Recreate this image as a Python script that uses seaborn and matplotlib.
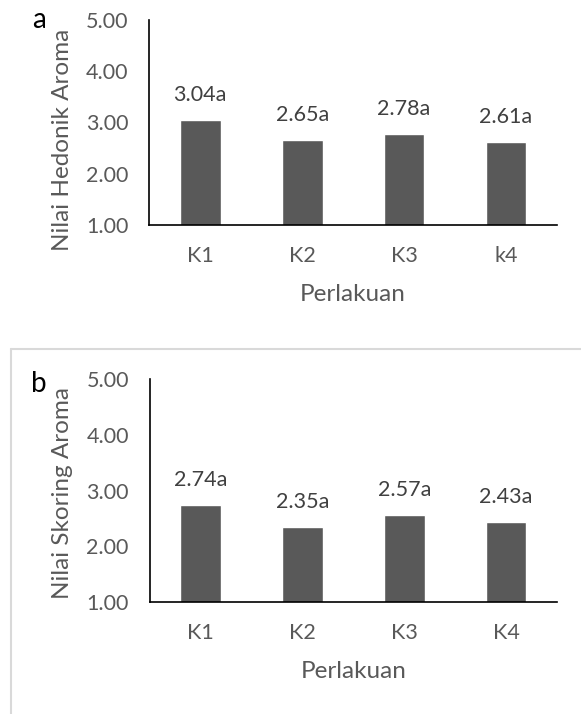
import matplotlib
matplotlib.use("Agg")
import matplotlib.pyplot as plt
from matplotlib.lines import Line2D
import seaborn as sns

# data
perlakuan_a = ["K1", "K2", "K3", "k4"]
hedonik = [3.04, 2.65, 2.78, 2.61]
notasi_a = ["a", "a", "a", "a"]

perlakuan_b = ["K1", "K2", "K3", "K4"]
skoring = [2.74, 2.35, 2.57, 2.43]
notasi_b = ["a", "a", "a", "a"]

y_ticks = [1.0, 2.0, 3.0, 4.0, 5.0]

sns.set_style("white")
plt.rcParams['font.family'] = ['Lato', 'DejaVu Sans']

W, H = 581, 714
fig = plt.figure(figsize=(W / 100, H / 100), dpi=100)

GRAY_TXT = "#595959"
BAR = "#595959"


def panel(rect, cats, vals, notes, ylabel, ylab_y, xlab_y):
    ax = fig.add_axes(rect)
    sns.barplot(x=cats, y=vals, color=BAR, saturation=1, width=0.4, ax=ax)
    ax.set_ylim(1, 5)
    ax.set_yticks(y_ticks)
    ax.set_yticklabels([f"{t:.2f}" for t in y_ticks])
    sns.despine(ax=ax)
    for s in ["left", "bottom"]:
        ax.spines[s].set_color("black")
        ax.spines[s].set_linewidth(1.2)
    ax.tick_params(axis="y", length=0, labelsize=15.5, colors=GRAY_TXT, pad=15)
    ax.tick_params(axis="x", length=0, labelsize=15.5, colors=GRAY_TXT, pad=15)
    for i, (v, n) in enumerate(zip(vals, notes)):
        ax.annotate(f"{v:.2f}{n}", (i, v), xytext=(0, 18), textcoords="offset points",
                    ha="center", va="center", fontsize=15.5, color="#404040")
    ax.set_ylabel(ylabel, fontsize=17.5, color=GRAY_TXT, va="center")
    ax.yaxis.set_label_coords(-0.214, ylab_y)
    ax.set_xlabel("Perlakuan", fontsize=17.5, color=GRAY_TXT, va="center")
    ax.xaxis.set_label_coords(0.5, xlab_y)
    return ax


ax_a = panel([149.3 / W, 1 - 225 / H, 407.7 / W, 205 / H],
             perlakuan_a, hedonik, notasi_a, "Nilai Hedonik Aroma", 0.415, -0.337)
ax_b = panel([149.7 / W, 1 - 602.3 / H, 407.3 / W, 223.3 / H],
             perlakuan_b, skoring, notasi_b, "Nilai Skoring Aroma", 0.489, -0.312)

# panel letters
fig.text(39 / W, 1 - 28 / H, "a", ha="center", va="baseline", fontsize=20, color="black")
fig.text(39 / W, 1 - 392 / H, "b", ha="center", va="baseline", fontsize=20, color="black")

# light border around panel b (only top and left visible)
top_y = 1 - 349 / H
fig.add_artist(Line2D([11 / W, 1.01], [top_y, top_y], color="#d9d9d9", lw=1.5,
                      transform=fig.transFigure))
fig.add_artist(Line2D([11 / W, 11 / W], [top_y, -0.01], color="#d9d9d9", lw=1.5,
                      transform=fig.transFigure))

fig.savefig("out.png", dpi=100)
